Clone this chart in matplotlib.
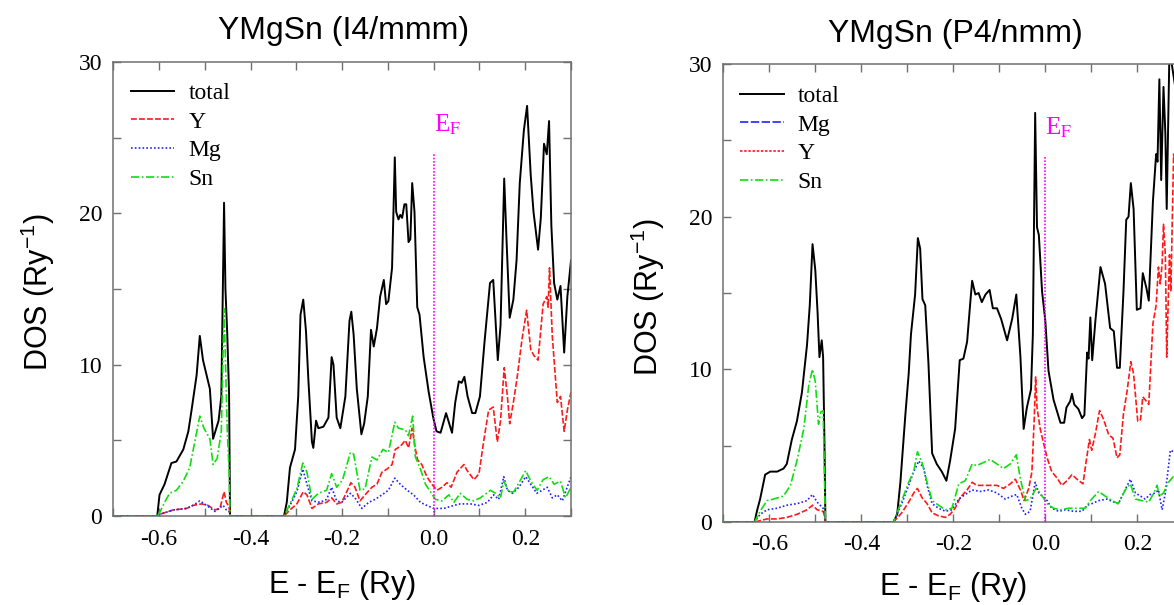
import numpy as np
import matplotlib.pyplot as plt
from matplotlib.lines import Line2D
from matplotlib.ticker import MultipleLocator

plt.rcParams['mathtext.fontset'] = 'custom'
plt.rcParams['mathtext.rm'] = 'Liberation Sans'
plt.rcParams['mathtext.it'] = 'Liberation Sans:italic'

# ---- YMgSn (I4/mmm) : (E - EF, DOS) ----
i4_total = [(-0.700, 0.0), (-0.604, 0.0), (-0.599, 1.4), (-0.588, 2.1), (-0.573, 3.5), (-0.562, 3.6), (-0.547, 4.4),
            (-0.536, 5.6), (-0.529, 7.0), (-0.518, 9.3), (-0.511, 11.9), (-0.504, 10.3), (-0.489, 8.4), (-0.482, 5.1),
            (-0.470, 6.3), (-0.464, 7.9), (-0.458, 20.7), (-0.455, 15.0), (-0.451, 12.0), (-0.447, 8.0), (-0.445, 0.0),
            (-0.327, 0.0), (-0.321, 0.9), (-0.314, 3.2), (-0.303, 4.4), (-0.296, 7.9), (-0.291, 13.3), (-0.285, 14.3),
            (-0.279, 12.2), (-0.274, 9.1), (-0.266, 4.9), (-0.263, 4.5), (-0.257, 6.3), (-0.252, 5.8), (-0.241, 5.9),
            (-0.230, 6.5), (-0.223, 10.5), (-0.219, 10.0), (-0.212, 6.5), (-0.204, 5.8), (-0.193, 7.9), (-0.184, 12.9),
            (-0.180, 13.5), (-0.175, 12.0), (-0.168, 8.4), (-0.158, 5.4), (-0.152, 6.1), (-0.144, 7.9), (-0.137, 12.3),
            (-0.131, 11.2), (-0.124, 12.4), (-0.117, 14.5), (-0.109, 15.6), (-0.104, 14.0), (-0.099, 14.2),
            (-0.091, 16.4), (-0.085, 23.7), (-0.082, 20.1), (-0.077, 19.6), (-0.073, 19.9), (-0.069, 19.7),
            (-0.064, 20.6), (-0.060, 20.6), (-0.055, 18.1), (-0.051, 18.3), (-0.047, 22.0), (-0.042, 20.1),
            (-0.036, 13.8), (-0.031, 13.3), (-0.022, 10.5), (-0.011, 8.2), (-0.001, 6.5), (0.006, 5.6), (0.015, 5.5),
            (0.027, 6.8), (0.033, 6.2), (0.040, 5.5), (0.047, 7.5), (0.055, 8.9), (0.061, 8.8), (0.067, 9.2),
            (0.074, 7.9), (0.084, 6.8), (0.091, 6.8), (0.101, 7.9), (0.111, 11.5), (0.123, 15.4), (0.130, 15.6),
            (0.140, 10.3), (0.146, 12.6), (0.154, 22.3), (0.159, 18.3), (0.166, 13.1), (0.174, 14.3), (0.181, 16.9),
            (0.188, 22.0), (0.197, 25.5), (0.204, 27.1), (0.212, 22.5), (0.218, 20.1), (0.228, 17.6), (0.234, 19.7),
            (0.241, 24.6), (0.247, 23.9), (0.252, 26.1), (0.257, 19.2), (0.263, 15.4), (0.270, 14.3), (0.277, 15.2),
            (0.285, 10.8), (0.292, 14.5), (0.300, 16.9)]

i4_y = [(-0.700, 0.0), (-0.604, 0.0), (-0.600, 0.1), (-0.569, 0.4), (-0.540, 0.5), (-0.526, 0.7), (-0.507, 0.8),
        (-0.493, 0.7), (-0.478, 0.4), (-0.467, 0.5), (-0.458, 1.6), (-0.453, 0.9), (-0.447, 0.6), (-0.445, 0.0),
        (-0.327, 0.0), (-0.314, 0.4), (-0.299, 0.8), (-0.285, 1.6), (-0.277, 1.4), (-0.266, 0.5), (-0.252, 0.8),
        (-0.234, 0.9), (-0.223, 1.2), (-0.212, 0.8), (-0.201, 0.9), (-0.190, 1.6), (-0.181, 2.2), (-0.172, 1.9),
        (-0.161, 1.0), (-0.150, 1.4), (-0.135, 1.9), (-0.124, 2.1), (-0.113, 2.9), (-0.102, 3.1), (-0.091, 3.4),
        (-0.084, 4.4), (-0.073, 4.6), (-0.062, 5.0), (-0.055, 4.5), (-0.047, 5.8), (-0.040, 4.4), (-0.035, 3.7),
        (-0.026, 3.4), (-0.015, 2.6), (-0.004, 2.1), (0.007, 1.7), (0.018, 1.9), (0.029, 2.2), (0.038, 1.9),
        (0.051, 2.9), (0.066, 3.4), (0.073, 3.0), (0.088, 2.4), (0.099, 2.8), (0.109, 4.9), (0.120, 7.0),
        (0.130, 7.2), (0.139, 4.9), (0.146, 6.3), (0.154, 9.8), (0.161, 7.9), (0.166, 6.1), (0.174, 7.5),
        (0.182, 9.1), (0.193, 11.7), (0.203, 13.6), (0.212, 11.0), (0.219, 10.6), (0.228, 10.3), (0.239, 14.0),
        (0.247, 14.5), (0.250, 13.8), (0.253, 16.4), (0.259, 11.9), (0.270, 7.5), (0.277, 7.9), (0.285, 5.6),
        (0.292, 7.0), (0.300, 8.2)]

i4_mg = [(-0.700, 0.0), (-0.604, 0.0), (-0.599, 0.1), (-0.569, 0.4), (-0.540, 0.5), (-0.526, 0.7), (-0.511, 1.0),
         (-0.496, 0.7), (-0.478, 0.3), (-0.460, 0.7), (-0.453, 0.4), (-0.447, 0.3), (-0.445, 0.0), (-0.327, 0.0),
         (-0.314, 0.7), (-0.299, 1.6), (-0.286, 3.1), (-0.277, 2.1), (-0.266, 1.0), (-0.248, 0.9), (-0.234, 1.1),
         (-0.223, 1.9), (-0.212, 1.0), (-0.201, 0.9), (-0.182, 1.5), (-0.172, 1.2), (-0.157, 0.5), (-0.142, 0.9),
         (-0.128, 1.1), (-0.113, 1.4), (-0.099, 1.7), (-0.085, 2.5), (-0.073, 2.1), (-0.058, 1.7), (-0.044, 1.4),
         (-0.029, 0.9), (-0.015, 0.7), (0.000, 0.5), (0.022, 0.5), (0.044, 0.7), (0.058, 0.8), (0.080, 0.8),
         (0.099, 0.7), (0.117, 0.9), (0.131, 1.4), (0.142, 1.1), (0.153, 2.6), (0.161, 1.7), (0.172, 1.5),
         (0.186, 1.9), (0.201, 2.6), (0.212, 2.1), (0.225, 1.5), (0.237, 1.7), (0.248, 1.9), (0.259, 1.2),
         (0.270, 1.4), (0.281, 1.0), (0.288, 1.6), (0.300, 2.6)]

i4_sn = [(-0.700, 0.0), (-0.604, 0.0), (-0.599, 0.2), (-0.588, 0.9), (-0.577, 1.5), (-0.562, 1.7), (-0.547, 2.3),
         (-0.533, 3.2), (-0.522, 4.9), (-0.511, 6.6), (-0.502, 5.8), (-0.489, 5.1), (-0.482, 3.4), (-0.473, 3.8),
         (-0.464, 5.6), (-0.458, 13.7), (-0.455, 10.3), (-0.451, 5.6), (-0.447, 3.0), (-0.445, 0.0), (-0.327, 0.0),
         (-0.314, 0.8), (-0.299, 1.8), (-0.286, 3.5), (-0.277, 2.9), (-0.266, 1.1), (-0.252, 1.5), (-0.234, 1.7),
         (-0.223, 2.8), (-0.212, 1.9), (-0.199, 2.4), (-0.182, 4.2), (-0.175, 4.1), (-0.161, 1.7), (-0.150, 1.8),
         (-0.135, 3.9), (-0.124, 3.7), (-0.111, 4.4), (-0.099, 4.2), (-0.085, 6.2), (-0.077, 5.8), (-0.062, 5.7),
         (-0.055, 5.3), (-0.046, 6.6), (-0.040, 3.9), (-0.029, 3.1), (-0.018, 2.1), (-0.007, 1.6), (0.004, 1.1),
         (0.018, 1.0), (0.033, 1.4), (0.044, 0.9), (0.058, 1.5), (0.073, 1.1), (0.088, 1.0), (0.102, 1.2),
         (0.124, 1.7), (0.135, 1.5), (0.146, 1.2), (0.153, 2.3), (0.164, 1.6), (0.175, 1.6), (0.190, 2.4),
         (0.201, 3.0), (0.212, 2.3), (0.226, 1.7), (0.239, 2.4), (0.252, 2.6), (0.263, 2.1), (0.277, 2.3),
         (0.288, 1.2), (0.300, 1.9)]

# ---- YMgSn (P4/nmm) : right panel ----
p4_total = [(-0.700, 0.0), (-0.632, 0.0), (-0.627, 0.7), (-0.620, 1.5), (-0.609, 3.1), (-0.598, 3.3), (-0.583, 3.3),
            (-0.569, 3.5), (-0.562, 3.8), (-0.551, 5.4), (-0.540, 6.6), (-0.529, 8.5), (-0.518, 11.6), (-0.512, 14.2),
            (-0.506, 18.2), (-0.500, 16.5), (-0.495, 13.7), (-0.491, 10.8), (-0.486, 11.9), (-0.483, 10.8),
            (-0.480, 5.0), (-0.478, 0.0), (-0.330, 0.0), (-0.322, 0.5), (-0.315, 2.6), (-0.304, 7.1), (-0.297, 9.7),
            (-0.292, 12.3), (-0.283, 14.9), (-0.277, 18.6), (-0.272, 17.9), (-0.267, 14.6), (-0.261, 14.2),
            (-0.254, 10.4), (-0.246, 4.5), (-0.236, 3.8), (-0.225, 3.3), (-0.215, 2.7), (-0.207, 4.0), (-0.196, 6.1),
            (-0.186, 10.6), (-0.178, 10.7), (-0.170, 11.8), (-0.163, 14.4), (-0.159, 15.8), (-0.152, 14.9),
            (-0.145, 15.0), (-0.138, 14.4), (-0.130, 14.9), (-0.121, 15.2), (-0.114, 14.0), (-0.105, 14.0),
            (-0.096, 13.3), (-0.083, 11.9), (-0.072, 13.3), (-0.063, 14.9), (-0.054, 10.8), (-0.047, 6.1),
            (-0.040, 7.5), (-0.031, 8.7), (-0.027, 12.3), (-0.022, 26.8), (-0.018, 19.3), (-0.014, 18.8),
            (-0.007, 15.1), (0.000, 13.2), (0.007, 9.9), (0.018, 8.0), (0.025, 7.3), (0.033, 6.5), (0.041, 6.5),
            (0.046, 7.5), (0.054, 7.9), (0.058, 8.4), (0.063, 7.7), (0.072, 7.4), (0.080, 6.8), (0.085, 7.0),
            (0.091, 11.1), (0.094, 10.7), (0.098, 13.4), (0.102, 10.6), (0.109, 13.2), (0.120, 16.7), (0.130, 15.6),
            (0.141, 12.7), (0.149, 12.5), (0.156, 10.1), (0.162, 10.1), (0.170, 15.1), (0.176, 19.8), (0.181, 20.0),
            (0.186, 22.2), (0.192, 20.5), (0.199, 13.9), (0.207, 14.0), (0.212, 16.3), (0.220, 15.3), (0.225, 14.5),
            (0.234, 21.0), (0.241, 24.1), (0.244, 23.6), (0.248, 29.0), (0.252, 22.4), (0.257, 28.5), (0.261, 25.5),
            (0.264, 20.5), (0.270, 31.0), (0.280, 29.0), (0.290, 27.0), (0.300, 28.0)]

p4_y = [(-0.700, 0.0), (-0.632, 0.0), (-0.605, 0.2), (-0.583, 0.2), (-0.562, 0.3), (-0.540, 0.5), (-0.518, 0.8),
        (-0.506, 1.1), (-0.496, 0.8), (-0.483, 0.7), (-0.480, 0.4), (-0.478, 0.0), (-0.330, 0.0), (-0.312, 0.6),
        (-0.297, 1.3), (-0.286, 1.9), (-0.278, 2.2), (-0.268, 1.6), (-0.257, 1.2), (-0.246, 0.6), (-0.232, 0.4),
        (-0.217, 0.3), (-0.207, 0.5), (-0.196, 0.9), (-0.185, 1.6), (-0.170, 2.1), (-0.159, 2.6), (-0.149, 2.4),
        (-0.134, 2.4), (-0.120, 2.4), (-0.105, 2.4), (-0.091, 2.2), (-0.076, 2.5), (-0.065, 2.8), (-0.054, 2.1),
        (-0.046, 1.4), (-0.036, 2.2), (-0.029, 3.3), (-0.024, 6.8), (-0.021, 9.5), (-0.018, 7.5), (-0.011, 6.1),
        (-0.004, 5.2), (0.004, 4.2), (0.014, 3.3), (0.025, 2.9), (0.036, 2.4), (0.047, 2.7), (0.058, 3.1),
        (0.069, 2.8), (0.082, 2.5), (0.089, 4.0), (0.096, 5.4), (0.101, 4.7), (0.109, 5.8), (0.118, 7.3),
        (0.127, 6.7), (0.138, 5.7), (0.147, 5.5), (0.156, 4.2), (0.162, 4.4), (0.170, 7.1), (0.178, 8.6),
        (0.186, 10.5), (0.192, 9.7), (0.201, 6.6), (0.207, 6.7), (0.212, 8.2), (0.220, 7.9), (0.225, 7.7),
        (0.234, 13.0), (0.241, 14.2), (0.246, 16.7), (0.250, 15.6), (0.254, 16.9), (0.257, 19.5), (0.261, 17.5),
        (0.264, 10.8), (0.270, 17.5), (0.273, 15.1), (0.279, 24.1), (0.290, 22.0), (0.300, 23.0)]

p4_mg = [(-0.700, 0.0), (-0.632, 0.0), (-0.620, 0.5), (-0.605, 0.8), (-0.583, 0.9), (-0.562, 1.1), (-0.540, 1.2),
         (-0.518, 1.4), (-0.506, 1.8), (-0.496, 1.3), (-0.483, 0.9), (-0.480, 0.5), (-0.478, 0.0), (-0.330, 0.0),
         (-0.312, 1.2), (-0.297, 2.4), (-0.286, 3.3), (-0.275, 4.0), (-0.264, 3.5), (-0.257, 2.4), (-0.246, 1.2),
         (-0.232, 0.9), (-0.217, 0.7), (-0.203, 0.8), (-0.188, 1.5), (-0.174, 1.8), (-0.159, 2.1), (-0.141, 2.0),
         (-0.123, 2.1), (-0.105, 1.9), (-0.087, 1.5), (-0.072, 1.7), (-0.062, 1.8), (-0.051, 0.9), (-0.043, 0.5),
         (-0.033, 0.7), (-0.022, 2.6), (-0.014, 1.9), (-0.007, 1.7), (0.004, 1.4), (0.014, 0.9), (0.029, 0.7),
         (0.043, 0.8), (0.062, 0.7), (0.080, 0.7), (0.091, 1.1), (0.101, 1.2), (0.116, 1.4), (0.134, 1.5),
         (0.149, 1.3), (0.159, 1.2), (0.170, 1.9), (0.185, 2.8), (0.196, 1.9), (0.207, 1.7), (0.217, 1.5),
         (0.228, 1.8), (0.239, 1.9), (0.246, 2.1), (0.254, 0.8), (0.261, 1.9), (0.272, 4.7), (0.279, 4.6),
         (0.300, 4.5)]

p4_sn = [(-0.700, 0.0), (-0.632, 0.0), (-0.620, 0.7), (-0.605, 1.4), (-0.591, 1.5), (-0.569, 1.7), (-0.554, 2.4),
         (-0.540, 4.0), (-0.525, 6.1), (-0.514, 9.0), (-0.506, 10.0), (-0.500, 9.2), (-0.493, 6.4), (-0.488, 7.2),
         (-0.483, 7.3), (-0.480, 3.0), (-0.478, 0.0), (-0.330, 0.0), (-0.312, 1.4), (-0.297, 2.6), (-0.286, 3.3),
         (-0.278, 4.6), (-0.268, 3.9), (-0.257, 2.6), (-0.246, 1.4), (-0.232, 1.1), (-0.217, 0.8), (-0.203, 0.9),
         (-0.188, 2.5), (-0.174, 2.7), (-0.159, 3.8), (-0.149, 3.7), (-0.134, 3.9), (-0.120, 4.1), (-0.105, 3.8),
         (-0.091, 3.5), (-0.076, 3.8), (-0.063, 4.4), (-0.054, 2.8), (-0.043, 1.4), (-0.033, 1.5), (-0.020, 2.2),
         (-0.011, 1.9), (0.004, 1.2), (0.018, 0.9), (0.033, 0.8), (0.051, 0.9), (0.069, 0.9), (0.087, 0.9),
         (0.098, 1.4), (0.116, 2.0), (0.130, 1.7), (0.145, 1.4), (0.159, 1.2), (0.174, 2.1), (0.185, 2.5),
         (0.196, 1.5), (0.210, 1.4), (0.225, 1.3), (0.236, 1.9), (0.243, 2.4), (0.248, 1.7), (0.257, 1.9),
         (0.268, 2.6), (0.279, 3.0), (0.300, 3.0)]

titles = ['YMgSn (I4/mmm)', 'YMgSn (P4/nmm)']
ef_top = 24.0

SERIF = 'Liberation Serif'
SANS = 'Liberation Sans'
SPINE = '#707070'

# line styles
ST_TOTAL = dict(color='black', lw=1.4, ls='-')
ST_RED_DASH = dict(color='#ff1a1a', lw=1.2, ls=(0, (3.5, 1.3)))
ST_RED_DOT = dict(color='#ff1a1a', lw=1.2, ls=(0, (1.5, 1.0)))
ST_BLUE_DOT = dict(color='#2222ff', lw=1.2, ls=(0, (1, 1.3)))
ST_BLUE_DASH = dict(color='#2222ff', lw=1.2, ls=(0, (5, 1.5)))
ST_GREEN = dict(color='#11dd11', lw=1.2, ls=(0, (5, 1.5, 1, 1.5)))


def draw_panel(ax, curves, legend_items, legend_anchor):
    for pts, st in curves:
        arr = np.array(pts)
        ax.plot(arr[:, 0], arr[:, 1], **st)

    # Fermi level marker
    ax.plot([0, 0], [0, ef_top], color='magenta', lw=1.2, ls=(0, (1, 1)))
    ax.text(0.0, 25.4, r'E$_{\mathrm{F}}$', color='magenta', fontsize=18,
            family=SERIF, math_fontfamily='stix', ha='left', va='baseline')

    ax.set_xlim(-0.7, 0.3)
    ax.set_ylim(0, 30)
    ax.xaxis.set_major_locator(MultipleLocator(0.2))
    ax.xaxis.set_minor_locator(MultipleLocator(0.1))
    ax.yaxis.set_major_locator(MultipleLocator(10))
    ax.yaxis.set_minor_locator(MultipleLocator(5))
    ax.tick_params(which='both', direction='in', top=True, right=True, length=6,
                   width=1.0, color=SPINE)
    ax.tick_params(axis='x', which='major', pad=9)
    ax.tick_params(axis='y', which='major', pad=8)
    ax.xaxis.set_major_formatter(plt.FuncFormatter(lambda v, p: '0.0' if abs(v) < 1e-9 else f'{v:.1f}'))
    ax.yaxis.set_major_formatter(plt.FuncFormatter(lambda v, p: f'{v:.0f}'))
    for lab in ax.get_xticklabels() + ax.get_yticklabels():
        lab.set_family(SERIF)
        lab.set_fontsize(17)
    for sp in ax.spines.values():
        sp.set_color(SPINE)
        sp.set_linewidth(1.1)

    handles = [Line2D([], [], **st) for _, st in legend_items]
    labels = [lab for lab, _ in legend_items]
    ax.legend(handles, labels, loc='upper left', bbox_to_anchor=legend_anchor,
              frameon=False, prop={'family': SERIF, 'size': 17}, handlelength=1.85,
              handletextpad=0.6, labelspacing=0.3, borderpad=0, borderaxespad=0)


fig = plt.figure(figsize=(11.74, 6.05), dpi=100)
ax1 = fig.add_axes([0.0965, 0.1471, 0.3899, 0.7504])
ax2 = fig.add_axes([0.6161, 0.1372, 0.3918, 0.7570])

draw_panel(ax1,
           [(i4_total, ST_TOTAL), (i4_y, ST_RED_DASH), (i4_mg, ST_BLUE_DOT), (i4_sn, ST_GREEN)],
           [('total', ST_TOTAL), ('Y', ST_RED_DASH), ('Mg', ST_BLUE_DOT), ('Sn', ST_GREEN)],
           (0.038, 0.955))
draw_panel(ax2,
           [(p4_total, ST_TOTAL), (p4_y, ST_RED_DASH), (p4_mg, ST_BLUE_DOT), (p4_sn, ST_GREEN)],
           [('total', ST_TOTAL), ('Mg', ST_BLUE_DASH), ('Y', ST_RED_DOT), ('Sn', ST_GREEN)],
           (0.036, 0.953))

# titles and axis labels placed in figure coords
fig.text(0.2930, 0.9350, titles[0], family=SANS, fontsize=23, ha='center', va='baseline')
fig.text(0.8135, 0.9311, titles[1], family=SANS, fontsize=23, ha='center', va='baseline')
fig.text(0.0324, 0.5174, r'DOS (Ry$^{-1}$)', family=SANS, fontsize=22, rotation=90,
         ha='center', va='center')
fig.text(0.5520, 0.5090, r'DOS (Ry$^{-1}$)', family=SANS, fontsize=22, rotation=90,
         ha='center', va='center')
fig.text(0.2913, 0.0198, r'E - E$_{\mathrm{F}}$ (Ry)', family=SANS, fontsize=22,
         ha='center', va='baseline')
fig.text(0.8118, 0.0160, r'E - E$_{\mathrm{F}}$ (Ry)', family=SANS, fontsize=22,
         ha='center', va='baseline')

fig.savefig('out.png', dpi=100, facecolor='white')
